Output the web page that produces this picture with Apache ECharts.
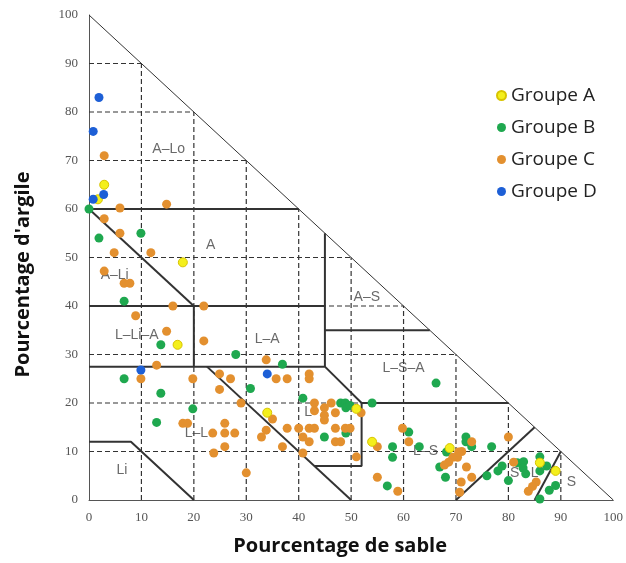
<!DOCTYPE html>
<html><head><meta charset="utf-8">
<script src="https://cdn.jsdelivr.net/npm/echarts/dist/echarts.min.js"></script>
<style>html,body{margin:0;padding:0;background:#fff}#c{width:626px;height:563px}</style>
</head><body><div id="c"></div>
<script>
// ---- tick labels / grid values ----
const gridTicks = [10,20,30,40,50,60,70,80,90];

// ---- series (x = % sable, y = % argile) ----
const groupA = [[2.9,65],[1.7,62],[17.9,49],[16.9,32],[34,18],[51,18.8],[54,12],[68.8,10.7],[86,7.7],[89,6]];
const groupB = [[0,60],[9.9,55],[1.9,54],[6.7,41],[13.7,32],[28,30],[36.9,28],[6.7,25],[13.7,22],[30.8,23],[19.8,18.8],[12.9,16],
  [40.8,21],[48,20],[48.9,20],[49,19],[49.8,19.5],[54,20],[66.2,24.1],[44.9,13],[49,13.8],[61,14],[57.9,11],[57.9,8.8],[63,11],[56.9,2.9],
  [68.2,9.9],[66.9,6.8],[68,4.7],[71.9,13],[71.9,12],[73,11],[76.8,11],[75.9,5],[78,6],[78.8,7],[80,4],[81.7,7.7],[82.9,7.9],[82.8,6.6],
  [83.3,5.4],[86,8.9],[86,6],[87.3,7],[86,0.2],[87.8,2],[89,3]];
const groupC = [[2.9,71],[5.9,60.2],[14.8,61],[2.9,58],[5.9,55],[4.8,51],[11.8,51],[2.9,47.2],[6.7,44.7],[7.8,44.7],[16,40],[21.9,40],
  [8.9,38],[14.8,34.8],[21.9,32.8],[12.9,27.8],[9.9,25],[19.8,25],[24.9,26],[27,25],[24.9,22.8],[29,20],[17.9,15.8],[18.8,15.8],
  [25.9,15.8],[23.6,13.8],[25.9,13.8],[27.8,13.8],[25.9,11],[23.8,9.7],[30,5.6],[33.8,28.9],[35.7,25],[37.8,25],[42,26],[42,25],
  [35,16.7],[33.8,14.4],[32.9,13],[37.8,14.8],[40,14.8],[42,14.8],[43,14.8],[47,14.8],[48.9,14.8],[49.8,14.8],[40.8,13],[42,12],
  [47,12],[48,12],[36.9,11],[40.8,9.7],[51,8.9],[43,20],[44.9,19],[46.2,20],[44.9,17.5],[44.9,16.5],[47,18],[51.9,18],[43,18.4],
  [55,11],[55,4.7],[58.9,1.8],[59.8,14.8],[61,12],[73,12],[71.1,10],[70.3,8.8],[69.4,8.8],[68.6,7.8],[67.8,7.2],[72,6.8],[73,4.7],
  [71,3.7],[70.7,1.6],[70.5,9.9],[80,13],[81,7.8],[85.3,3.7],[84.6,2.8],[83.8,1.8]];
const groupD = [[1.9,83],[0.8,76],[2.8,63],[0.8,62],[9.9,26.8],[34,26]];
const groupNames = ["Groupe A","Groupe B","Groupe C","Groupe D"];

// ---- texture-class boundaries (data units) ----
const hypotenuse = [[0,100],[100,0]];
const boundaries = [
  [[0,60],[40,60]],
  [[0,60],[20,40]],
  [[0,40],[45,40]],
  [[20,40],[20,27.5]],
  [[45,55],[45,27.5]],
  [[45,35],[65,35]],
  [[0,27.5],[45,27.5],[52,20],[80,20]],
  [[22.5,27.5],[50,0]],
  [[43,7],[52,7],[52,20]],
  [[0,12],[8,12],[20,0]],
  [[70,0],[85,15]],
  [[85,0],[90,10]]
];
const zoneNames = ["A–Lo","A","A–Li","L–Li–A","L–A","A–S","L–S–A","L","L–L","Li","L–S","S","L","S"];
const zoneX = [15.2,23.2,4.9,9.1,34,53,60,41.8,20.5,6.3,64.2,81.2,85,92];
const zoneY = [72.3,52.6,46.4,34,33.2,41.9,27.2,18.1,13.8,6.2,10.1,5.6,5.6,3.7];

const series = [];
function addLine(pts, width, dashed){
  series.push({type:'line', data:pts, symbol:'none', silent:true, animation:false, z:1,
    lineStyle:{color:'#333', width:width, type: dashed ? [5,3] : 'solid'}});
}
gridTicks.forEach(t => { addLine([[0,t],[100-t,t]], 1.2, true); addLine([[t,0],[t,100-t]], 1.2, true); });
addLine(hypotenuse, 1, false);
boundaries.forEach(b => addLine(b, 2, false));

series.push({type:'scatter', silent:true, symbolSize:0, z:3,
  data: zoneNames.map((n,i)=>({value:[zoneX[i],zoneY[i]], name:n})),
  label:{show:true, position:'inside', formatter:p=>p.name, color:'#444', fontSize:14, fontFamily:'Liberation Sans'}});

const colors = {"Groupe A":'#f4ef1c',"Groupe B":'#1fa84f',"Groupe C":'#e3902f',"Groupe D":'#1d5fd6'};
function addScatter(name, data, z, border){
  series.push({type:'scatter', name:name, data:data, symbolSize:9, z:z,
    itemStyle:{color:colors[name], borderColor: border || colors[name], borderWidth: border ? 1 : 0, opacity:1}});
}
addScatter("Groupe B", groupB, 4);
addScatter("Groupe C", groupC, 5);
addScatter("Groupe A", groupA, 6, '#d8c400');
addScatter("Groupe D", groupD, 7);

const axisFont = {color:'#555', fontSize:13, fontFamily:'Liberation Serif'};
const chart = echarts.init(document.getElementById('c'), null, {renderer:'canvas'});
chart.setOption({
  animation:false,
  backgroundColor:'#fff',
  grid:{left:89, right:11, top:15, bottom:63},
  legend:{data:groupNames, orient:'vertical', left:491, top:81, icon:'circle', itemWidth:9, itemHeight:9, itemGap:13,
    textStyle:{fontSize:19, fontFamily:'Open Sans', color:'#222', padding:[0,0,0,0]}},
  xAxis:{type:'value', min:0, max:100, interval:10,
    axisLine:{show:true, onZero:false, lineStyle:{color:'#555', width:1}}, axisTick:{show:false}, splitLine:{show:false},
    axisLabel:Object.assign({margin:11}, axisFont),
    name:'Pourcentage de sable', nameLocation:'middle', nameGap:36,
    nameTextStyle:{fontSize:20, fontWeight:'bold', fontFamily:'Open Sans', color:'#111', padding:[0,22,0,0]}},
  yAxis:{type:'value', min:0, max:100, interval:10,
    axisLine:{show:true, onZero:false, lineStyle:{color:'#555', width:1}}, axisTick:{show:false}, splitLine:{show:false},
    axisLabel:Object.assign({margin:11}, axisFont),
    name:"Pourcentage d'argile", nameLocation:'middle', nameGap:56, nameRotate:90,
    nameTextStyle:{fontSize:20, fontWeight:'bold', fontFamily:'Open Sans', color:'#111', padding:[0,34,0,0]}},
  series:series
});
</script></body></html>
